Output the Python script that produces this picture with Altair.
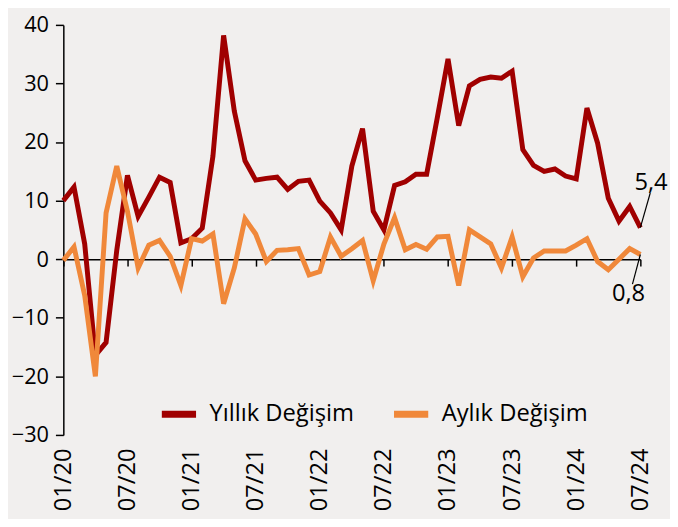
import altair as alt
import pandas as pd

months = [f"{m:02d}/{y:02d}" for y in range(20, 25) for m in range(1, 13)][:55]

yillik = [10.0, 12.3, 2.6, -16.4, -14.2, 1.5, 14.3, 7.3, 10.6, 14.0, 13.1, 2.8,
          3.5, 5.3, 17.6, 38.2, 25.3, 16.8, 13.5, 13.8, 14.0, 11.9, 13.3, 13.5,
          9.9, 7.9, 5.0, 15.9, 22.3, 8.2, 5.0, 12.6, 13.2, 14.5, 14.5, 24.2,
          34.2, 22.8, 29.6, 30.7, 31.1, 30.9, 32.1, 18.7, 16.0, 15.0, 15.4, 14.2,
          13.7, 25.8, 19.8, 10.4, 6.5, 9.0, 5.4]

aylik = [-0.2, 2.1, -6.2, -20.0, 7.9, 15.9, 8.2, -1.5, 2.4, 3.2, 0.5, -4.5,
         3.5, 3.1, 4.3, -7.6, -1.5, 6.9, 4.3, -0.4, 1.5, 1.6, 1.8, -2.7,
         -2.1, 3.8, 0.5, 1.8, 3.2, -3.7, 2.6, 7.1, 1.6, 2.5, 1.7, 3.8,
         3.9, -4.5, 5.0, 3.8, 2.6, -1.5, 3.8, -3.0, 0.2, 1.4, 1.4, 1.4,
         2.4, 3.5, -0.4, -1.8, 0.0, 1.8, 0.8]

series_names = ["Yıllık Değişim", "Aylık Değişim"]
colors = ["#A00000", "#F0883A"]
tick_labels = [m for m in months if m[:2] in ("01", "07")]

df = pd.DataFrame({
    "ay": months * 2,
    "deger": yillik + aylik,
    "seri": [series_names[0]] * len(months) + [series_names[1]] * len(months),
})

last_y = pd.DataFrame({"ay": [months[-1]], "deger": [yillik[-1]], "txt": ["5,4"]})
last_a = pd.DataFrame({"ay": [months[-1]], "deger": [aylik[-1]], "txt": ["0,8"]})

W, H = 584, 415
FONT = "Open Sans"
FS = 24

x_enc = alt.X("ay:N", sort=months,
              scale=alt.Scale(type="point", padding=0),
              axis=alt.Axis(values=tick_labels, title=None, labelAngle=270,
                            offset=-H * 3 / 7, labelPadding=184, tickSize=7,
                            domainColor="#000", tickColor="#000", domainWidth=1.5,
                            tickWidth=1.5, labelFontSize=FS, labelColor="#000",
                            labelFont=FONT, grid=False))
y_scale = alt.Scale(domain=[-30, 40], nice=False)

lines = alt.Chart(df).mark_line(strokeWidth=5, strokeJoin="miter").encode(
    x=x_enc,
    y=alt.Y("deger:Q", scale=y_scale,
            axis=alt.Axis(values=list(range(-30, 41, 10)), title=None, grid=False,
                          tickSize=8, labelPadding=7, labelFontSize=22,
                          labelColor="#000", labelFont=FONT, domainColor="#000",
                          tickColor="#000", domainWidth=1.5, tickWidth=1.5)),
    color=alt.Color("seri:N", sort=series_names,
                    scale=alt.Scale(domain=series_names, range=colors),
                    legend=alt.Legend(title=None, orient="none", direction="horizontal",
                                      legendX=96, legendY=373, symbolType="stroke",
                                      symbolSize=1200, symbolStrokeWidth=7,
                                      labelFontSize=FS, labelFont=FONT,
                                      labelColor="#000", columnPadding=25,
                                      labelOffset=10)),
)

rule_y = alt.Chart(last_y).mark_rule(color="#000", strokeWidth=1.2, x2Offset=10, y2Offset=-35).encode(
    x=alt.X("ay:N", sort=months), y="deger:Q", x2="ay:N", y2="deger:Q")
rule_a = alt.Chart(last_a).mark_rule(color="#000", strokeWidth=1.2, x2Offset=-8, y2Offset=30).encode(
    x=alt.X("ay:N", sort=months), y="deger:Q", x2="ay:N", y2="deger:Q")
text_y = alt.Chart(last_y).mark_text(font=FONT, fontSize=FS, color="#000", align="left",
                                     baseline="bottom", dx=-6, dy=-33).encode(
    x=alt.X("ay:N", sort=months), y="deger:Q", text="txt:N")
text_a = alt.Chart(last_a).mark_text(font=FONT, fontSize=FS, color="#000", align="center",
                                     baseline="top", dx=-12, dy=28).encode(
    x=alt.X("ay:N", sort=months), y="deger:Q", text="txt:N")

chart = alt.layer(lines, rule_y, rule_a, text_y, text_a).properties(
    width=W, height=H,
    autosize=alt.AutoSizeParams(type="none"),
    padding={"left": 56, "top": 14, "right": 30, "bottom": 82},
    background="#F1EFEE",
).configure_view(stroke=None)

chart.save("out.html", embed_options={"renderer": "svg", "actions": False})
